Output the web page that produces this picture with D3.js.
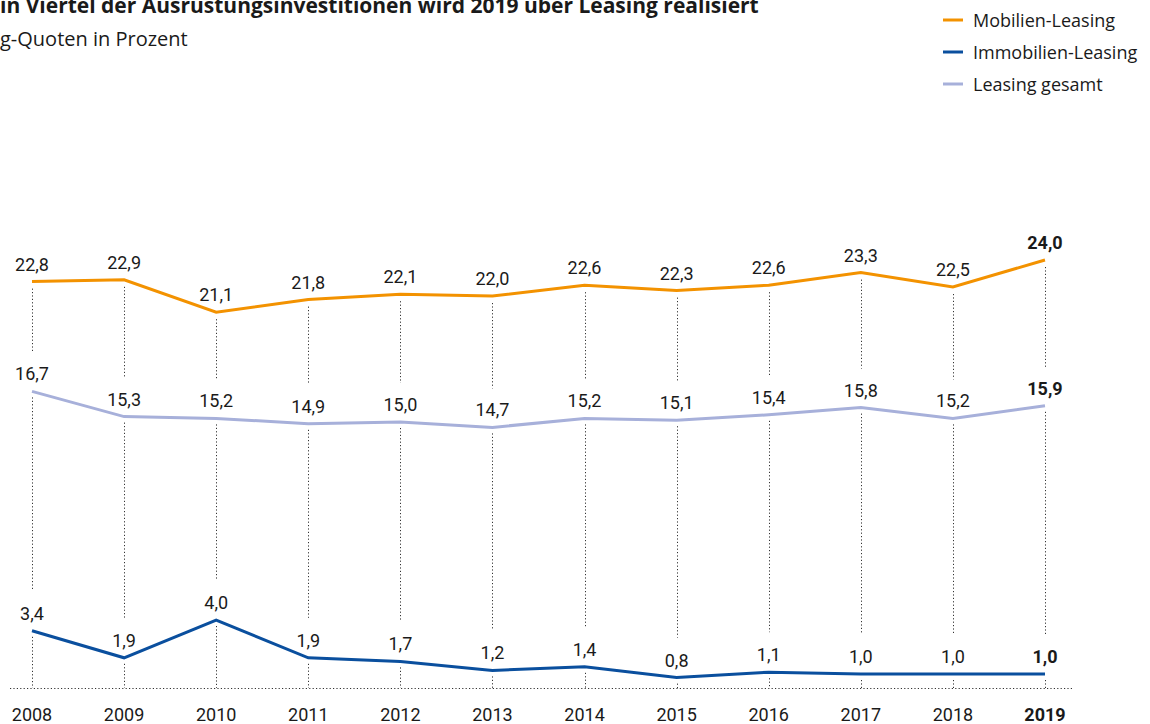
<!DOCTYPE html>
<html><head><meta charset="utf-8">
<script src="https://cdn.jsdelivr.net/npm/d3@7"></script>
<style>body{margin:0;background:#fff;overflow:hidden}svg{display:block}text{font-family:Roboto,"Noto Sans",sans-serif;fill:#1a1a1a}.os{font-family:"Open Sans",sans-serif}</style>
</head><body>
<svg id="c" width="1150" height="724"></svg>
<script>
const years = ["2008","2009","2010","2011","2012","2013","2014","2015","2016","2017","2018","2019"];
const mobilien = [22.8,22.9,21.1,21.8,22.1,22.0,22.6,22.3,22.6,23.3,22.5,24.0];
const gesamt = [16.7,15.3,15.2,14.9,15.0,14.7,15.2,15.1,15.4,15.8,15.2,15.9];
const immobilien = [3.4,1.9,4.0,1.9,1.7,1.2,1.4,0.8,1.1,1.0,1.0,1.0];
const seriesNames = ["Mobilien-Leasing","Immobilien-Leasing","Leasing gesamt"];
const colors = ["#f39200","#0a4f9e","#a7b0da"];
const title = "Ein Viertel der Ausrüstungsinvestitionen wird 2019 über Leasing realisiert";
const subtitle = "Leasing-Quoten in Prozent";

const svg = d3.select("#c");
const x = d3.scalePoint().domain(years).range([32,1045]);
const y = d3.scaleLinear().domain([0,24]).range([692,260]);
const fmt = v => d3.format(".1f")(v).replace(".",",");
const baseY = 688;

// title & subtitle (cropped at left as in the source)
function w(txt,size,weight){const t=svg.append("text").attr("class","os").attr("font-size",size).attr("font-weight",weight).text(txt);const v=t.node().getComputedTextLength();t.remove();return v;}
svg.append("text").attr("class","os").attr("x",-w("E",21,700)).attr("y",13).attr("font-size",21).attr("font-weight",700).text(title);
svg.append("text").attr("class","os").attr("x",-w("Leasin",20,400)).attr("y",46).attr("font-size",20).text(subtitle);

// legend
const lg = svg.append("g");
seriesNames.forEach((n,i)=>{
  const yy = 20 + i*32;
  lg.append("line").attr("x1",943).attr("x2",963).attr("y1",yy).attr("y2",yy).attr("stroke",colors[i]).attr("stroke-width",3);
  lg.append("text").attr("class","os").attr("x",973).attr("y",yy+6.5).attr("font-size",18).text(n);
});

// dotted guides
const g = svg.append("g");
function vseg(xx,y1,y2){ if(y2>y1) g.append("line").attr("x1",xx).attr("x2",xx).attr("y1",y1).attr("y2",y2).attr("stroke","#333").attr("stroke-width",1).attr("stroke-dasharray","1.2,2.2"); }
years.forEach((yr,i)=>{
  const xx = Math.round(x(yr))+0.5;
  vseg(xx, y(mobilien[i])+7, y(gesamt[i])-39);
  vseg(xx, y(gesamt[i])+6, y(immobilien[i])-40);
  vseg(xx, y(immobilien[i])+6, baseY);
});
g.append("line").attr("x1",10).attr("x2",1072).attr("y1",baseY+0.5).attr("y2",baseY+0.5).attr("stroke","#333").attr("stroke-width",1).attr("stroke-dasharray","1.2,2.2");

// lines
const line = d3.line().x((d,i)=>x(years[i])).y(d=>y(d));
[[mobilien,colors[0]],[immobilien,colors[1]],[gesamt,colors[2]]].forEach(([arr,c])=>{
  svg.append("path").datum(arr).attr("d",line).attr("fill","none").attr("stroke",c).attr("stroke-width",3).attr("stroke-linejoin","miter");
});

// value labels
[mobilien,gesamt,immobilien].forEach(arr=>{
  svg.append("g").selectAll("text").data(arr).join("text")
    .attr("x",(d,i)=>x(years[i])).attr("y",d=>y(d)-11)
    .attr("text-anchor","middle").attr("font-size",18)
    .attr("font-weight",(d,i)=>i===years.length-1?700:400)
    .text(fmt);
});

// x axis labels
svg.append("g").selectAll("text").data(years).join("text")
  .attr("x",d=>x(d)).attr("y",721).attr("text-anchor","middle").attr("font-size",18)
  .attr("font-weight",(d,i)=>i===years.length-1?700:400).text(d=>d);
</script>
</body></html>
